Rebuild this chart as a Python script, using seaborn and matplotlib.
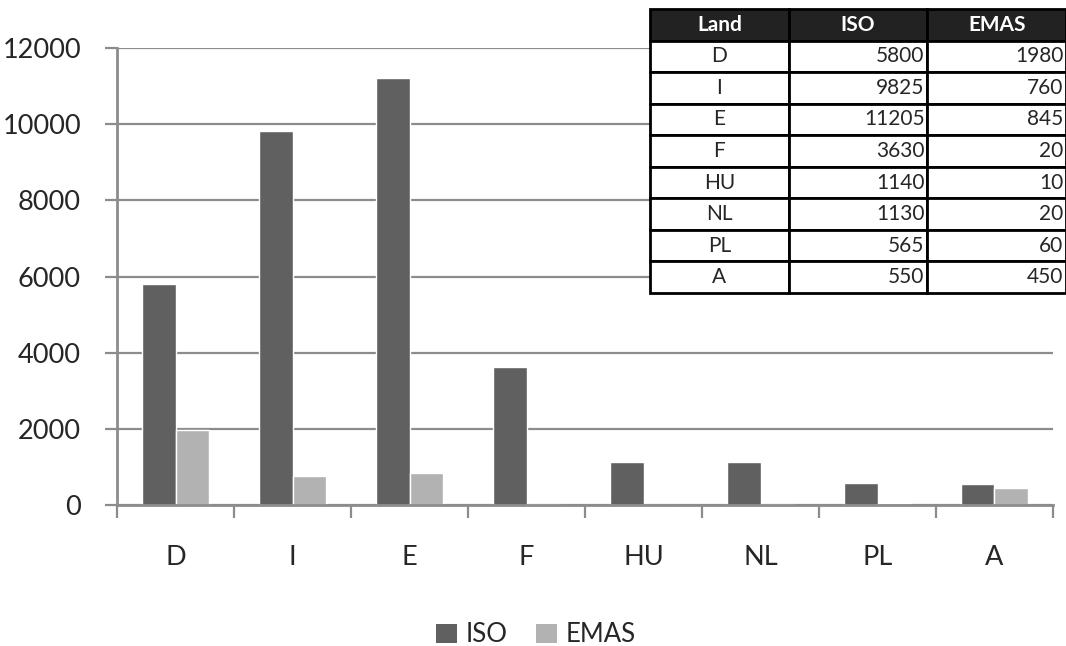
import pandas as pd
import matplotlib
matplotlib.use("Agg")
import matplotlib.pyplot as plt
import seaborn as sns
from matplotlib.patches import Patch

laender = ["D", "I", "E", "F", "HU", "NL", "PL", "A"]
iso = [5800, 9825, 11205, 3630, 1140, 1130, 565, 550]
emas = [1980, 760, 845, 20, 10, 20, 60, 450]
series = ["ISO", "EMAS"]
farben = ["#606060", "#b2b2b2"]

df = pd.DataFrame({"Land": laender, "ISO": iso, "EMAS": emas})
df_long = df.melt(id_vars="Land", value_vars=series, var_name="Serie", value_name="Wert")

sns.set_style("white")
plt.rcParams["font.family"] = ["Lato", "DejaVu Sans"]

fig = plt.figure(figsize=(10.66, 6.46), dpi=100)
ax = fig.add_axes([0.1098, 0.2183, 0.878, 0.7071])

sns.barplot(data=df_long, x="Land", y="Wert", hue="Serie", palette=farben,
            saturation=1, width=0.575, gap=0, ax=ax, legend=False)

ax.set_ylim(0, 12000)
ax.set_xlim(-0.5, len(laender) - 0.5)
ax.set_yticks(range(0, 12001, 2000))
ax.set_xlabel("")
ax.set_ylabel("")
ax.yaxis.grid(True, color="#8c8c8c", linewidth=1.6)
ax.set_axisbelow(True)

for s in ["top", "right"]:
    ax.spines[s].set_visible(False)
for s in ["left", "bottom"]:
    ax.spines[s].set_color("#8c8c8c")
    ax.spines[s].set_linewidth(2)

# ticks between the categories like in Excel
ax.set_xticks([i - 0.5 for i in range(len(laender) + 1)], minor=True)
ax.tick_params(axis="x", which="major", bottom=True, length=0, pad=29, labelsize=19.5)
ax.tick_params(axis="x", which="minor", bottom=True, length=9, width=1.6, color="#8c8c8c", direction="out")
ax.tick_params(axis="y", left=True, length=9, width=1.6, color="#8c8c8c", direction="out", pad=17, labelsize=19.5)

handles = [Patch(facecolor=c, edgecolor="none") for c in farben]
fig.legend(handles, series, loc="lower center", bbox_to_anchor=(0.503, -0.038), ncol=2,
           frameon=False, fontsize=18.5, handlelength=0.8, handleheight=0.8,
           handletextpad=0.35, columnspacing=1.1)

# table in the top right corner
tab_ax = fig.add_axes([650 / 1066, 1 - 293 / 646, 416 / 1066, 284 / 646])
tab_ax.axis("off")
zellen = [[l, str(a), str(b)] for l, a, b in zip(laender, iso, emas)]
tab = tab_ax.table(cellText=zellen, colLabels=["Land"] + series,
                   bbox=[0, 0, 1, 1], cellLoc="right")
tab.auto_set_font_size(False)
n_rows = len(laender) + 1
for (r, c), cell in tab.get_celld().items():
    cell.set_linewidth(2)
    cell.set_edgecolor("black")
    cell.get_text().set_fontsize(15)
    cell.set_height(1 / n_rows)
    if r == 0:
        cell.set_facecolor("#222222")
        cell.get_text().set_color("white")
        cell.get_text().set_fontweight("bold")
        cell.get_text().set_horizontalalignment("center")
    elif c == 0:
        cell.get_text().set_horizontalalignment("center")
    else:
        cell.PAD = 0.02

fig.savefig("out.png", dpi=100)
